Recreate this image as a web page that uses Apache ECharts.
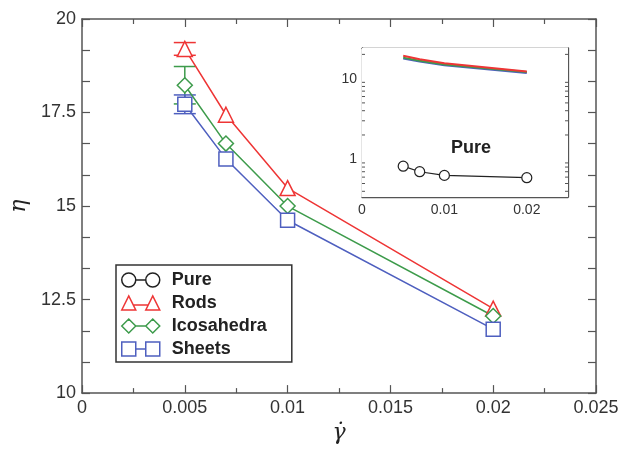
<!DOCTYPE html>
<html>
<head>
<meta charset="utf-8">
<script src="https://cdn.jsdelivr.net/npm/echarts@6/dist/echarts.min.js"></script>
<style>
html,body{margin:0;padding:0;background:#fff;}
#c{width:622px;height:449px;}
</style>
</head>
<body>
<div id="c"></div>
<script>
// ---- data ----
const shearRates = [0.005, 0.007, 0.01, 0.02];
const pure = [0.82, 0.70, 0.63, 0.59];
const rods = [19.2, 17.44, 15.48, 12.26];
const icosahedra = [18.23, 16.67, 15.0, 12.06];
const sheets = [17.72, 16.26, 14.62, 11.71];
const rodsErr = [0.17, 0, 0, 0];
const icosahedraErr = [0.5, 0, 0, 0];
const sheetsErr = [0.25, 0, 0, 0];
const seriesNames = ['Pure', 'Rods', 'Icosahedra', 'Sheets'];
const mainYTicks = [10, 12.5, 15, 17.5, 20];
const mainXTicks = [0, 0.005, 0.01, 0.015, 0.02, 0.025];
const insetLogMinorTicks = [0.4, 0.5, 0.6, 0.7, 0.8, 0.9, 2, 3, 4, 5, 6, 7, 8, 9, 20];

// ---- styles ----
const colors = {Pure: '#222222', Rods: '#ee3535', Icosahedra: '#3d9b4b', Sheets: '#4e5fbf'};
const axisCol = '#555555';
const labelCol = '#333333';
const font = 'Liberation Sans, Arial, sans-serif';

const pairs = (ys) => shearRates.map((x, i) => [x, ys[i]]);
const errPairs = (ys, es) => shearRates.map((x, i) => [x, ys[i], es[i]]);

const icons = {
  Pure: 'path://M1,8 A7,7 0 1,0 15,8 A7,7 0 1,0 1,8 Z M15,8 L25,8 M25,8 A7,7 0 1,0 39,8 A7,7 0 1,0 25,8 Z',
  Rods: 'path://M1,15 L8,1 L15,15 Z M12,10 L28,10 M25,15 L32,1 L39,15 Z',
  Icosahedra: 'path://M1,8 L8,1 L15,8 L8,15 Z M15,8 L25,8 M25,8 L32,1 L39,8 L32,15 Z',
  Sheets: 'path://M1,1 L15,1 L15,15 L1,15 Z M15,8 L25,8 M25,1 L39,1 L39,15 L25,15 Z'
};

function mainAxisCommon() {
  return {
    axisLine: {show: true, onZero: false, lineStyle: {color: axisCol, width: 1.5}},
    axisTick: {show: true, inside: true, length: 8, lineStyle: {color: axisCol, width: 1.2}},
    minorTick: {show: true, length: 5, lineStyle: {color: axisCol, width: 1.2}},
    splitLine: {show: false},
    minorSplitLine: {show: false}
  };
}
function insetAxisCommon() {
  return {
    axisLine: {show: true, onZero: false, lineStyle: {color: axisCol, width: 1.3}},
    axisTick: {show: true, inside: true, length: 5, lineStyle: {color: axisCol, width: 1}},
    splitLine: {show: false},
    minorSplitLine: {show: false}
  };
}

function errorSeries(name, ys, es) {
  return {
    type: 'custom', name: name + ' err', xAxisIndex: 0, yAxisIndex: 0, z: 1,
    silent: true, legendHoverLink: false,
    data: errPairs(ys, es),
    renderItem: function (params, api) {
      const x = api.value(0), y = api.value(1), e = api.value(2);
      if (!e) return null;
      const t = api.coord([x, y + e]);
      const b = api.coord([x, y - e]);
      const hw = 11;
      const st = {stroke: colors[name], lineWidth: 1.5};
      return {type: 'group', children: [
        {type: 'line', shape: {x1: t[0], y1: t[1], x2: b[0], y2: b[1]}, style: st},
        {type: 'line', shape: {x1: t[0] - hw, y1: t[1], x2: t[0] + hw, y2: t[1]}, style: st},
        {type: 'line', shape: {x1: b[0] - hw, y1: b[1], x2: b[0] + hw, y2: b[1]}, style: st}
      ]};
    }
  };
}

function mainLine(name, ys, symbol, size) {
  return {
    type: 'line', name: name, xAxisIndex: 0, yAxisIndex: 0, z: 3,
    data: pairs(ys), symbol: symbol, symbolSize: size, showAllSymbol: true,
    clip: true,
    lineStyle: {color: colors[name], width: 1.5},
    itemStyle: {color: '#fff', borderColor: colors[name], borderWidth: 1.5},
    emphasis: {disabled: true}
  };
}
function insetLine(name, ys, withSymbol) {
  return {
    type: 'line', name: name + ' inset', xAxisIndex: 2, yAxisIndex: 2, z: 6,
    data: pairs(ys), symbol: withSymbol ? 'circle' : 'none', symbolSize: 10, showAllSymbol: true,
    lineStyle: {color: colors[name], width: withSymbol ? 1.2 : 2},
    itemStyle: {color: '#fff', borderColor: colors[name], borderWidth: 1.2},
    emphasis: {disabled: true}
  };
}

const option = {
  animation: false,
  backgroundColor: '#fff',
  textStyle: {fontFamily: font},
  title: {
    text: 'Pure', left: 446, top: 134,
    textStyle: {fontSize: 18, fontWeight: 'bold', color: '#222', fontFamily: font}
  },
  legend: {
    orient: 'vertical', left: 116, top: 265,
    padding: [6, 25, 4, 5], itemGap: 5, itemWidth: 40, itemHeight: 14,
    backgroundColor: '#fff', borderColor: '#333', borderWidth: 1.5,
    textStyle: {fontSize: 18, fontWeight: 'bold', color: '#222', lineHeight: 18, padding: [0, 0, 0, 6], fontFamily: font},
    selectedMode: false,
    data: seriesNames.map(n => ({
      name: n, icon: icons[n],
      itemStyle: {color: '#fff', borderColor: colors[n], borderWidth: 1.5}
    }))
  },
  grid: [
    {left: 76, top: 19, width: 520, height: 383, show: false},
    {left: 362, top: 48, width: 206, height: 149, show: true, backgroundColor: '#fff', borderWidth: 0, z: 5}
  ],
  xAxis: [
    Object.assign(mainAxisCommon(), {
      type: 'value', gridIndex: 0, position: 'bottom', min: mainXTicks[0], max: mainXTicks[mainXTicks.length - 1], interval: 0.005,
      minorTick: {show: true, splitNumber: 2, length: 5, lineStyle: {color: axisCol, width: 1.2}},
      axisLabel: {show: true, fontSize: 18, color: labelCol, margin: 6, fontFamily: font},
      name: 'γ̇', nameLocation: 'middle', nameGap: 28,
      nameTextStyle: {fontSize: 22, fontStyle: 'italic', color: '#222', fontFamily: 'DejaVu Serif, serif'}
    }),
    Object.assign(mainAxisCommon(), {
      type: 'value', gridIndex: 0, position: 'top', min: 0, max: 0.025, interval: 0.005,
      minorTick: {show: true, splitNumber: 2, length: 5, lineStyle: {color: axisCol, width: 1.2}},
      axisLabel: {show: false}
    }),
    Object.assign(insetAxisCommon(), {
      type: 'value', gridIndex: 1, position: 'bottom', min: 0, max: 0.025, interval: 0.005,
      axisLabel: {show: true, fontSize: 14, color: labelCol, margin: 6, fontFamily: font,
        formatter: v => (Math.abs(v * 100 - Math.round(v * 100)) < 1e-9 ? String(+v.toFixed(2)) : '')}
    }),
    Object.assign(insetAxisCommon(), {
      type: 'value', gridIndex: 1, position: 'top', min: 0, max: 0.025, interval: 0.005,
      axisLabel: {show: false}
    })
  ],
  yAxis: [
    Object.assign(mainAxisCommon(), {
      type: 'value', gridIndex: 0, position: 'left', min: mainYTicks[0], max: mainYTicks[mainYTicks.length - 1], interval: 2.5,
      minorTick: {show: true, splitNumber: 3, length: 8, lineStyle: {color: axisCol, width: 1.2}},
      axisLabel: {show: true, fontSize: 18, color: labelCol, margin: 6, fontFamily: font},
      name: 'η', nameLocation: 'middle', nameGap: 52, nameRotate: 90,
      nameTextStyle: {fontSize: 22, fontStyle: 'italic', color: '#222', fontFamily: 'DejaVu Serif, serif'}
    }),
    Object.assign(mainAxisCommon(), {
      type: 'value', gridIndex: 0, position: 'right', min: 10, max: 20, interval: 2.5,
      minorTick: {show: true, splitNumber: 3, length: 8, lineStyle: {color: axisCol, width: 1.2}},
      axisLabel: {show: false}
    }),
    Object.assign(insetAxisCommon(), {
      type: 'log', logBase: 10, gridIndex: 1, position: 'left', min: 0.34, max: 24,
      axisLabel: {show: true, fontSize: 14, color: labelCol, margin: 5, fontFamily: font,
        showMinLabel: false, showMaxLabel: false,
        formatter: v => (v === 1 || v === 10 ? String(v) : '')}
    }),
    Object.assign(insetAxisCommon(), {
      type: 'log', logBase: 10, gridIndex: 1, position: 'right', min: 0.34, max: 24,
      axisLabel: {show: false}
    })
  ],
  series: [
    errorSeries('Rods', rods, rodsErr),
    errorSeries('Icosahedra', icosahedra, icosahedraErr),
    errorSeries('Sheets', sheets, sheetsErr),
    mainLine('Pure', pure, 'circle', 14),
    mainLine('Rods', rods, 'triangle', 15),
    mainLine('Icosahedra', icosahedra, 'diamond', 15),
    mainLine('Sheets', sheets, 'rect', 14),
    insetLine('Sheets', sheets, false),
    insetLine('Icosahedra', icosahedra, false),
    insetLine('Rods', rods, false),
    insetLine('Pure', pure, true),
    {
      type: 'custom', name: 'inset minor ticks', xAxisIndex: 2, yAxisIndex: 2, z: 7, silent: true,
      clip: false,
      data: insetLogMinorTicks.map(v => [0, v]),
      renderItem: function (params, api) {
        const v = api.value(1);
        const l = api.coord([0, v]);
        const r = api.coord([0.025, v]);
        const st = {stroke: axisCol, lineWidth: 1};
        return {type: 'group', children: [
          {type: 'line', shape: {x1: l[0], y1: l[1], x2: l[0] + 3, y2: l[1]}, style: st},
          {type: 'line', shape: {x1: r[0] - 3, y1: r[1], x2: r[0], y2: r[1]}, style: st}
        ]};
      }
    }
  ]
};

const chart = echarts.init(document.getElementById('c'), null, {renderer: 'canvas'});
chart.setOption(option);
</script>
</body>
</html>
